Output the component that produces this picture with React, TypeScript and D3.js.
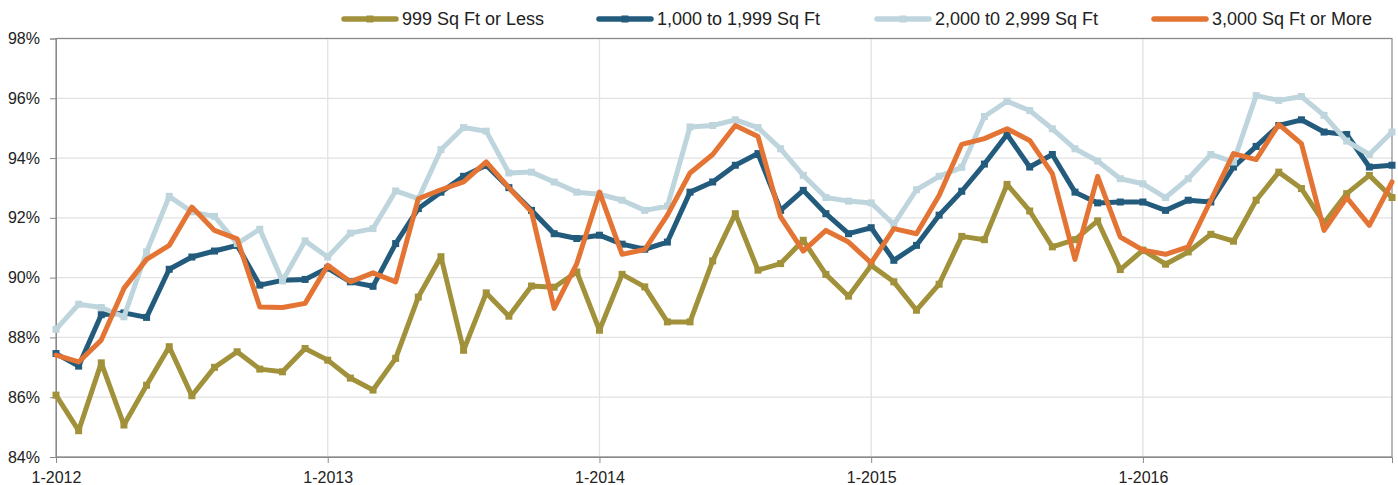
import React, { useEffect, useRef } from "react";
import * as d3 from "d3";

const WIDTH = 1398;
const HEIGHT = 485;

// months Jan 2012 .. Dec 2016
const months = d3.range(60);
const yearTicks = ["1-2012", "1-2013", "1-2014", "1-2015", "1-2016"];
const yTicks = [84, 86, 88, 90, 92, 94, 96, 98];

const seriesNames = [
  "999 Sq Ft or Less",
  "1,000 to 1,999 Sq Ft",
  "2,000 t0 2,999 Sq Ft",
  "3,000 Sq Ft or More",
];
const seriesColors = ["#a1913a", "#235b7d", "#bed5dd", "#e37434"];
const seriesMarkers = [true, true, true, false];

const small = [
  86.07, 84.88, 87.15, 85.07, 86.4, 87.69, 86.05, 87.0, 87.52, 86.94, 86.85, 87.63,
  87.24, 86.64, 86.24, 87.3, 89.35, 90.7, 87.57, 89.49, 88.71, 89.72, 89.68, 90.19,
  88.24, 90.11, 89.69, 88.52, 88.52, 90.56, 92.14, 90.25, 90.47, 91.25, 90.11, 89.38,
  90.41, 89.86, 88.91, 89.78, 91.38, 91.27, 93.12, 92.23, 91.03, 91.27, 91.9, 90.27,
  90.92, 90.45, 90.86, 91.45, 91.22, 92.59, 93.53, 92.98, 91.83, 92.81, 93.42, 92.68,
];
const mid = [
  87.46, 87.04, 88.76, 88.82, 88.67, 90.28, 90.69, 90.89, 91.08, 89.75, 89.91, 89.94,
  90.32, 89.86, 89.71, 91.14, 92.31, 92.86, 93.39, 93.76, 93.01, 92.25, 91.47, 91.31,
  91.42, 91.12, 90.95, 91.19, 92.86, 93.2, 93.76, 94.15, 92.25, 92.92, 92.14, 91.47,
  91.67, 90.58, 91.08, 92.09, 92.89, 93.8, 94.79, 93.7, 94.12, 92.86, 92.5, 92.53,
  92.53, 92.25, 92.59, 92.53, 93.7, 94.39, 95.09, 95.28, 94.87, 94.79, 93.7, 93.76,
];
const large = [
  88.27, 89.11, 89.0, 88.69, 90.86, 92.72, 92.2, 92.05, 91.14, 91.62, 89.89, 91.23,
  90.69, 91.49, 91.64, 92.9, 92.64, 94.28, 95.02, 94.9, 93.5, 93.53, 93.2, 92.86,
  92.79, 92.59, 92.25, 92.39, 95.04, 95.09, 95.28, 95.02, 94.31, 93.42, 92.68, 92.56,
  92.5, 91.78, 92.94, 93.39, 93.69, 95.39, 95.9, 95.59, 94.98, 94.31, 93.9, 93.31,
  93.14, 92.68, 93.31, 94.12, 93.87, 96.09, 95.93, 96.06, 95.43, 94.57, 94.12, 94.87,
];
const xlarge = [
  87.41, 87.18, 87.91, 89.64, 90.61, 91.08, 92.36, 91.58, 91.3, 89.02, 89.0, 89.14,
  90.41, 89.86, 90.16, 89.86, 92.64, 92.94, 93.2, 93.87, 93.01, 92.2, 88.97, 90.47,
  92.86, 90.78, 90.94, 92.09, 93.5, 94.12, 95.09, 94.72, 92.03, 90.89, 91.58, 91.19,
  90.49, 91.64, 91.47, 92.75, 94.46, 94.65, 94.98, 94.59, 93.48, 90.61, 93.39, 91.36,
  90.92, 90.78, 91.03, 92.59, 94.15, 93.95, 95.13, 94.48, 91.58, 92.68, 91.75, 93.2,
];
const seriesValues = [small, mid, large, xlarge];

const App = () => {
  const ref = useRef<SVGSVGElement>(null);

  useEffect(() => {
    const marginLeft = 56;
    const marginRight = 6;
    const marginTop = 38.5;
    const marginBottom = 28;
    const font = "'Liberation Sans', Arial, Helvetica, sans-serif";

    const x = d3
      .scaleLinear()
      .domain([0, 59])
      .range([marginLeft, WIDTH - marginRight]);
    const y = d3
      .scaleLinear()
      .domain([84, 98])
      .range([HEIGHT - marginBottom, marginTop]);

    const svg = d3.select(ref.current);
    svg.selectAll("*").remove();
    svg.attr("width", WIDTH).attr("height", HEIGHT).attr("viewBox", [0, 0, WIDTH, HEIGHT]);

    // horizontal grid
    svg
      .append("g")
      .selectAll("line")
      .data(yTicks)
      .join("line")
      .attr("x1", marginLeft)
      .attr("x2", WIDTH - marginRight)
      .attr("y1", (d) => y(d))
      .attr("y2", (d) => y(d))
      .attr("stroke", "#e2e2e2")
      .attr("stroke-width", 1.3);

    // vertical grid at years
    svg
      .append("g")
      .selectAll("line")
      .data(yearTicks.map((_, i) => i * 12).slice(1))
      .join("line")
      .attr("x1", (d) => x(d))
      .attr("x2", (d) => x(d))
      .attr("y1", marginTop)
      .attr("y2", HEIGHT - marginBottom)
      .attr("stroke", "#e2e2e2")
      .attr("stroke-width", 1.3);

    // frame
    svg
      .append("rect")
      .attr("x", marginLeft)
      .attr("y", marginTop)
      .attr("width", WIDTH - marginRight - marginLeft)
      .attr("height", HEIGHT - marginBottom - marginTop)
      .attr("fill", "none")
      .attr("stroke", "#8a8a8a")
      .attr("stroke-width", 1.2);

    const yAxis = d3
      .axisLeft(y)
      .tickValues(yTicks)
      .tickSize(6)
      .tickPadding(10)
      .tickFormat((d) => `${d}%`);
    svg
      .append("g")
      .attr("transform", `translate(${marginLeft},0)`)
      .call(yAxis)
      .call((g) => g.select(".domain").attr("stroke", "#8a8a8a"))
      .call((g) => g.selectAll(".tick line").attr("stroke", "#8a8a8a"))
      .call((g) =>
        g
          .selectAll(".tick text")
          .attr("font-family", font)
          .attr("font-size", 16)
          .attr("fill", "#222")
      );

    const xAxis = d3
      .axisBottom(x)
      .tickValues(yearTicks.map((_, i) => i * 12))
      .tickSize(6)
      .tickPadding(9)
      .tickFormat((d, i) => yearTicks[i]);
    svg
      .append("g")
      .attr("transform", `translate(0,${HEIGHT - marginBottom})`)
      .call(xAxis)
      .call((g) => g.select(".domain").attr("stroke", "#8a8a8a"))
      .call((g) => g.selectAll(".tick line").attr("stroke", "#8a8a8a"))
      .call((g) =>
        g
          .selectAll(".tick text")
          .attr("font-family", font)
          .attr("font-size", 16)
          .attr("fill", "#222")
      );

    const line = d3
      .line<number>()
      .x((d, i) => x(months[i]))
      .y((d) => y(d));

    seriesValues.forEach((vals, s) => {
      const g = svg.append("g");
      g.append("path")
        .datum(vals)
        .attr("d", line)
        .attr("fill", "none")
        .attr("stroke", seriesColors[s])
        .attr("stroke-width", 5)
        .attr("stroke-linejoin", "round")
        .attr("stroke-linecap", "round");
      if (seriesMarkers[s]) {
        g.selectAll("rect")
          .data(vals)
          .join("rect")
          .attr("x", (d, i) => x(months[i]) - 3.5)
          .attr("y", (d) => y(d) - 3.5)
          .attr("width", 7)
          .attr("height", 7)
          .attr("fill", seriesColors[s]);
      }
    });

    // legend
    const legendX = [342, 597, 875, 1152];
    const legend = svg
      .append("g")
      .selectAll("g")
      .data(seriesNames)
      .join("g")
      .attr("transform", (d, i) => `translate(${legendX[i]},19)`);
    legend
      .append("line")
      .attr("x1", 2)
      .attr("x2", 54)
      .attr("stroke", (d, i) => seriesColors[i])
      .attr("stroke-width", 5.5)
      .attr("stroke-linecap", "round");
    legend
      .filter((d, i) => seriesMarkers[i])
      .append("rect")
      .attr("x", 24.5)
      .attr("y", -3.5)
      .attr("width", 7)
      .attr("height", 7)
      .attr("fill", (d) => seriesColors[seriesNames.indexOf(d)]);
    legend
      .append("text")
      .attr("x", 60)
      .attr("dy", "0.36em")
      .attr("font-family", font)
      .attr("font-size", 18)
      .attr("fill", "#222")
      .text((d) => d);
  }, []);

  return <svg ref={ref} style={{ position: "absolute", left: 0, top: 0 }}></svg>;
};

export default App;
